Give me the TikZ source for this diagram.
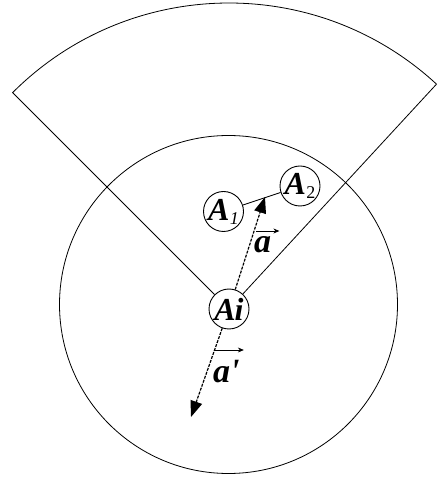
\documentclass[tikz,border=0pt]{standalone}
\usepackage{fontspec}
\setmainfont{Liberation Serif}
\usetikzlibrary{arrows.meta,calc}
\begin{document}
\begin{tikzpicture}[x=1pt,y=1pt,
  atom/.style={circle,draw,line width=0.9pt,minimum size=40pt,inner sep=0pt,
    font=\fontsize{32}{32}\selectfont\bfseries\itshape},
  thin line/.style={line width=0.8pt},
  vecarrow/.style={line width=1.2pt,dash pattern=on 3pt off 1.2pt,
    -{Triangle[length=16pt,width=12pt]}},
  veclabel/.style={inner sep=0pt,anchor=base west,font=\fontsize{34}{34}\selectfont\bfseries\itshape},
  overarrow/.style={line width=0.8pt,-{Stealth[length=6pt,width=5pt]}}]
\useasboundingbox (0,0) rectangle (437,482);
% big circle
\draw[thin line] (228.5,177.5) circle[radius=169];
% nodes
\node[atom] (Ai) at (229,173) {A\kern-1pt i};
\node[atom] (A1) at (223.5,270.5) {A\kern0.5pt\raisebox{-4pt}{\fontsize{18}{18}\selectfont\mdseries 1}};
\node[atom] (A2) at (300,296) {A\kern0.5pt\raisebox{-4pt}{\fontsize{18}{18}\selectfont\normalfont 2}};
% sector
\coordinate (tipL) at ($(229,173)+(135:306)$);
\coordinate (tipR) at ($(229,173)+(47.3:306)$);
\draw[thin line] (Ai) -- (tipL) arc[start angle=135,end angle=47.3,radius=306] -- (Ai);
% A1-A2 link
\draw[thin line] (A1) -- (A2);
% vectors
\coordinate (ta) at (265,285);
\coordinate (tb) at (191,65);
\draw[vecarrow] (Ai) -- (ta);
\draw[vecarrow] (Ai) -- (tb);
% labels
\node[veclabel] (la) at (254,229) {a};
\draw[overarrow] ([xshift=2pt,yshift=22pt]la.base west) -- ([xshift=8pt,yshift=22pt]la.base east);
\node[veclabel] (lb) at (213,99) {a\textquotesingle};
\draw[overarrow] ([xshift=2pt,yshift=33pt]lb.base west) -- ([xshift=4pt,yshift=33pt]lb.base east);
\end{tikzpicture}
\end{document}
